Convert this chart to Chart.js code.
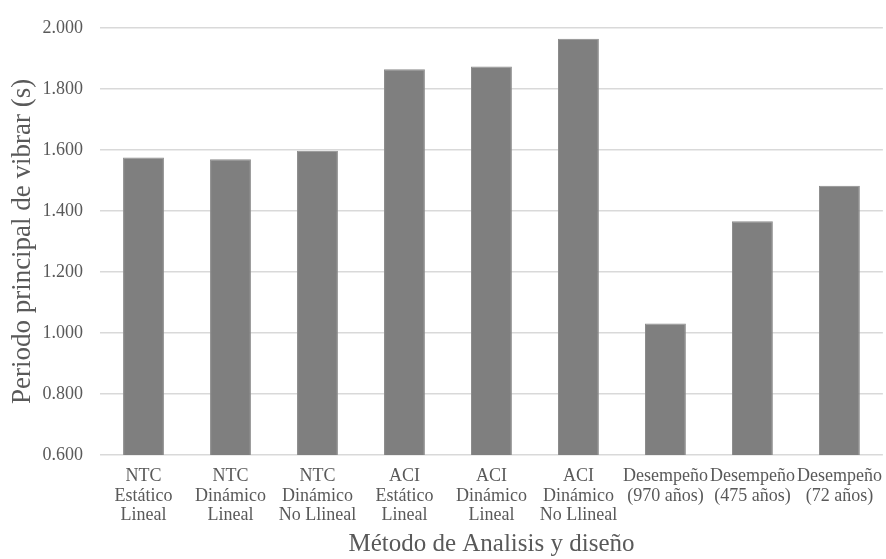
<!DOCTYPE html>
<html>
<head>
<meta charset="utf-8">
<script src="https://cdn.jsdelivr.net/npm/chart.js@4"></script>
<style>
  html, body { margin: 0; padding: 0; background: #fff; }
  #wrap { width: 886px; height: 559px; }
</style>
</head>
<body>
<div id="wrap"><canvas id="myChart" width="886" height="559"></canvas></div>
<script>
// categorías (etiquetas en varias líneas)
const metodos = [
    ['NTC', 'Estático', 'Lineal'],
    ['NTC', 'Dinámico', 'Lineal'],
    ['NTC', 'Dinámico', 'No Llineal'],
    ['ACI', 'Estático', 'Lineal'],
    ['ACI', 'Dinámico', 'Lineal'],
    ['ACI', 'Dinámico', 'No Llineal'],
    ['Desempeño', '(970 años)'],
    ['Desempeño', '(475 años)'],
    ['Desempeño', '(72 años)']
];
// periodo principal (s)
const periodos = [1.575, 1.569, 1.597, 1.864, 1.873, 1.964, 1.031, 1.366, 1.482];

const yMin = 0.6;
const yMax = 2.0;
const yPaso = 0.2;

const gris = '#595959';
const fuente = "'Liberation Serif', 'Times New Roman', serif";

const ctx = document.getElementById('myChart').getContext('2d');

const myChart = new Chart(ctx, {
    type: 'bar',
    data: {
        labels: metodos,
        datasets: [{
            data: periodos,
            backgroundColor: '#7f7f7f',
            borderColor: '#8c8c8c',
            borderWidth: 1,
            categoryPercentage: 1,
            barPercentage: 0.47
        }]
    },
    options: {
        responsive: false,
        animation: false,
        layout: {
            padding: { top: 24, right: 2, bottom: 0, left: 0 }
        },
        plugins: {
            legend: { display: false },
            tooltip: { enabled: false }
        },
        scales: {
            x: {
                grid: { display: false },
                border: { display: false },
                ticks: {
                    color: gris,
                    font: { family: fuente, size: 18, lineHeight: 1.07 },
                    padding: 4,
                    maxRotation: 0,
                    autoSkip: false
                },
                title: {
                    display: true,
                    text: 'Método de Analisis y diseño',
                    color: gris,
                    font: { family: fuente, size: 25 },
                    padding: { top: 6, bottom: 0 }
                },
                afterFit: (scale) => { scale.height = 104; }
            },
            y: {
                min: yMin,
                max: yMax,
                grid: { color: '#d9d9d9', lineWidth: 1.5, drawTicks: false },
                border: { display: false },
                ticks: {
                    stepSize: yPaso,
                    color: gris,
                    font: { family: fuente, size: 18 },
                    padding: 17,
                    callback: (v) => Number(v).toFixed(3)
                },
                title: {
                    display: true,
                    text: 'Periodo principal de vibrar (s)',
                    color: gris,
                    font: { family: fuente, size: 27 },
                    padding: { top: 7, bottom: 0 }
                },
                afterFit: (scale) => { scale.width = 100; }
            }
        }
    }
});
</script>
</body>
</html>
